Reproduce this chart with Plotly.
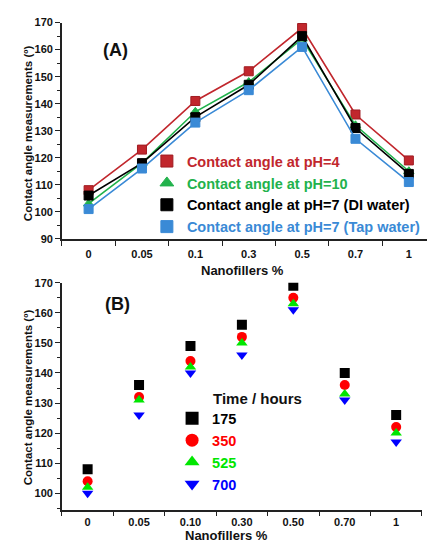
import plotly.graph_objects as go

# ---- Panel A data ----
cats_a = ["0", "0.05", "0.1", "0.3", "0.5", "0.7", "1"]
ph4 = [108, 123, 141, 152, 168, 136, 119]
ph10 = [103, 118, 137, 148, 164, 132, 115]
ph7_di = [106, 118, 135, 147, 165, 131, 114]
ph7_tap = [101, 116, 133, 145, 161, 127, 111]
names_a = ["Contact angle at pH=4", "Contact angle at pH=10",
           "Contact angle at pH=7 (DI water)", "Contact angle at pH=7 (Tap water)"]

# ---- Panel B data ----
cats_b = ["0", "0.05", "0.10", "0.30", "0.50", "0.70", "1"]
t175 = [108, 136, 149, 156, 169, 140, 126]
t350 = [104, 132, 144, 152, 165, 136, 122]
t525 = [102, 131, 142, 150, 163, 133, 120]
t700 = [100, 126, 140, 146, 161, 131, 117]
names_b = ["175", "350", "525", "700"]

FONT = "Arial, Liberation Sans, sans-serif"

fig = go.Figure()

styles_a = [
    ("#c1272d", "square", "#a01c22"),
    ("#22b24c", "triangle-up", "#22b24c"),
    ("#000000", "square", "#000000"),
    ("#3a8ad6", "square", "#3a8ad6"),
]
for name, vals, (col, sym, edge) in zip(names_a, [ph4, ph10, ph7_di, ph7_tap], styles_a):
    fig.add_trace(go.Scatter(
        x=cats_a, y=vals, name=name, showlegend=False,
        mode="lines+markers", xaxis="x", yaxis="y",
        line=dict(color=col, width=1.6),
        marker=dict(symbol=sym, size=9, color=col, line=dict(color=edge, width=1)),
    ))
    # legend entry (marker only)
    fig.add_trace(go.Scatter(
        x=[None], y=[None], name=f"<span style='color:{col}'>{name}</span>",
        mode="markers", xaxis="x", yaxis="y", legend="legend",
        marker=dict(symbol=sym, size=12, color=col, line=dict(color=edge, width=1)),
    ))

styles_b = [
    ("#000000", "square"),
    ("#ff0000", "circle"),
    ("#00e600", "triangle-up"),
    ("#0000ff", "triangle-down"),
]
for name, vals, (col, sym) in zip(names_b, [t175, t350, t525, t700], styles_b):
    fig.add_trace(go.Scatter(
        x=cats_b, y=vals, name=name, showlegend=False,
        mode="markers", xaxis="x2", yaxis="y2",
        marker=dict(symbol=sym, size=10, color=col),
    ))
    fig.add_trace(go.Scatter(
        x=[None], y=[None], name=f"<span style='color:{col}'>{name}</span>",
        mode="markers", xaxis="x2", yaxis="y2", legend="legend2",
        marker=dict(symbol=sym, size=13, color=col),
    ))

axis_common = dict(
    showline=True, linecolor="#222", linewidth=1.5, mirror=False,
    ticks="outside", tickcolor="#222", tickwidth=1.2, ticklen=5,
    showgrid=False, zeroline=False,
    tickfont=dict(family=FONT, size=11, color="#111", weight="bold"),
)

fig.update_layout(
    width=427, height=548,
    margin=dict(l=0, r=0, t=0, b=0),
    paper_bgcolor="white", plot_bgcolor="white",
    font=dict(family=FONT),
    xaxis=dict(domain=[0.145, 1.0], anchor="y", type="category",
               range=[-0.5, 6.34], tickson="boundaries", ticklabelstandoff=4,
               **axis_common),
    yaxis=dict(domain=[0.5657, 0.969], anchor="x", range=[90, 170],
               tickvals=[90, 100, 110, 120, 130, 140, 150, 160, 170],
               minor=dict(dtick=5, ticklen=3, ticks="outside", tickcolor="#222"),
               **axis_common),
    xaxis2=dict(domain=[0.145, 0.988], anchor="y2", type="category",
                range=[-0.5, 6.5], tickson="boundaries", ticklabelstandoff=1,
                **axis_common),
    yaxis2=dict(domain=[0.0602, 0.4836], anchor="x2", range=[94.5, 170],
                tickvals=[100, 110, 120, 130, 140, 150, 160, 170],
                minor=dict(dtick=5, ticklen=3, ticks="outside", tickcolor="#222"),
                **axis_common),
    legend=dict(
        x=0.344, y=0.649, xanchor="left", yanchor="middle",
        bgcolor="rgba(0,0,0,0)", itemsizing="trace",
        font=dict(family=FONT, size=14.5, weight="bold"),
        tracegroupgap=0, itemwidth=30,
    ),
    legend2=dict(
        x=0.403, y=0.169, xanchor="left", yanchor="middle",
        bgcolor="rgba(0,0,0,0)", itemsizing="trace",
        font=dict(family=FONT, size=14.5, weight="bold"),
        tracegroupgap=0, itemwidth=30,
    ),
    showlegend=True,
)

def ann(text, x, y, size, angle=0):
    fig.add_annotation(text=text, x=x / 427, y=1 - y / 548,
                       xref="paper", yref="paper", showarrow=False, borderpad=0,
                       xanchor="center", yanchor="middle", textangle=angle,
                       font=dict(family=FONT, size=size, weight="bold", color="#111"))

ann("(A)", 115, 45, 18)
ann("(B)", 117, 305, 18)
ann("Time / hours", 257, 401, 15)
ann("Nanofillers %", 243, 270, 13)
ann("Nanofillers %", 226, 541, 13)
ann("Contact angle measurements (º)", 28, 130, 11.5, -90)
ann("Contact angle measurements (º)", 28, 400, 11.5, -90)

fig.write_html("out.html", config={"displayModeBar": False},
               post_script="document.body.style.margin='0px';")
